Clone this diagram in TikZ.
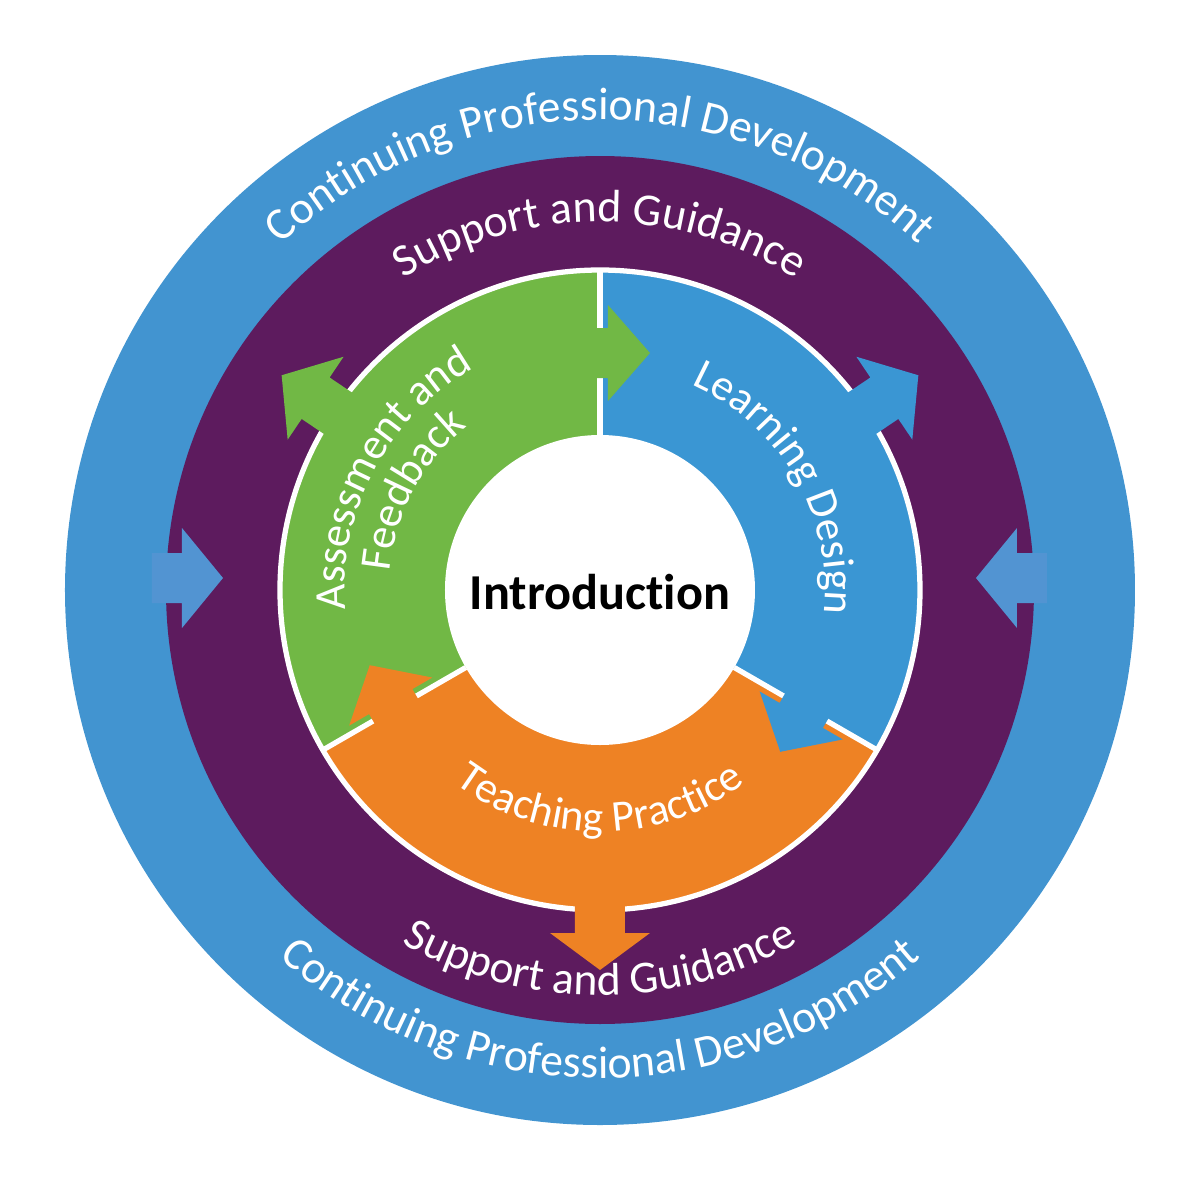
\documentclass[tikz,border=0pt]{standalone}
\usepackage{fontspec}
\setmainfont{Carlito}[Ligatures=NoCommon]
\usepackage{xcolor}
\usepackage{tikz}
\usetikzlibrary{decorations.text}

\definecolor{cpdblue}{HTML}{4294D0}
\definecolor{sgpurple}{HTML}{5D1B5E}
\definecolor{afgreen}{HTML}{71B845}
\definecolor{ldblue}{HTML}{3A96D3}
\definecolor{tporange}{HTML}{EE8224}
\definecolor{sideblue}{HTML}{5294D2}

\begin{document}
\begin{tikzpicture}[
  curvetext/.style={decorate, decoration={text along path, text align=center, text color=white, text={|\fontsize{13}{15}\selectfont|#1}}},
  segtext/.style={decorate, decoration={text along path, text align=center, text color=white, text={|\fontsize{12.5}{15}\selectfont|#1}}},
  border/.style={white, line width=1.5pt}
]
\useasboundingbox (-6,-6.1) rectangle (6,5.9);
\fill[cpdblue] (0,0) circle (5.35);
\fill[sgpurple] (0,0) circle (4.34);
\fill[sideblue] (-4.48,0.37) -- (-4.18,0.37) -- (-4.18,0.62) -- (-3.77,0.12) -- (-4.18,-0.38) -- (-4.18,-0.13) -- (-4.48,-0.13) -- cycle;
\fill[sideblue] (4.47,0.37) -- (4.17,0.37) -- (4.17,0.62) -- (3.76,0.12) -- (4.17,-0.38) -- (4.17,-0.13) -- (4.47,-0.13) -- cycle;
\fill[afgreen] (0,0) -- (90:3.2) arc (90:210:3.2) -- cycle;
\fill[ldblue] (0,0) -- (90:3.2) arc (90:-30:3.2) -- cycle;
\fill[tporange] (0,0) -- (210:3.2) arc (210:330:3.2) -- cycle;
\draw[border] (0,0) circle (3.2);
\draw[border] (90:1.55) -- (90:3.2);
\draw[border] (-30:1.55) -- (-30:3.2);
\draw[border] (210:1.55) -- (210:3.2);
\fill[white] (0,0) circle (1.55);
\fill[afgreen] (-0.40,2.12) -- (0.08,2.12) -- (0.08,1.89) -- (0.50,2.37) -- (0.08,2.85) -- (0.08,2.62) -- (-0.40,2.62) -- cycle;
\begin{scope}[rotate=-120]
\fill[ldblue] (-0.40,2.12) -- (0.08,2.12) -- (0.08,1.89) -- (0.50,2.37) -- (0.08,2.85) -- (0.08,2.62) -- (-0.40,2.62) -- cycle;
\end{scope}
\begin{scope}[rotate=120]
\fill[tporange] (-0.40,2.12) -- (0.08,2.12) -- (0.08,1.89) -- (0.50,2.37) -- (0.08,2.85) -- (0.08,2.62) -- (-0.40,2.62) -- cycle;
\end{scope}
\begin{scope}[rotate=146]
\fill[afgreen] (2.9,-0.25) -- (3.43,-0.25) -- (3.43,-0.5) -- (3.84,0) -- (3.43,0.5) -- (3.43,0.25) -- (2.9,0.25) -- cycle;
\end{scope}
\begin{scope}[rotate=34]
\fill[ldblue] (2.9,-0.25) -- (3.43,-0.25) -- (3.43,-0.5) -- (3.84,0) -- (3.43,0.5) -- (3.43,0.25) -- (2.9,0.25) -- cycle;
\end{scope}
\begin{scope}[rotate=270]
\fill[tporange] (2.9,-0.25) -- (3.43,-0.25) -- (3.43,-0.5) -- (3.80,0) -- (3.43,0.5) -- (3.43,0.25) -- (2.9,0.25) -- cycle;
\end{scope}
\node[font=\bfseries\fontsize{14.3}{16}\selectfont] (intro) at (0,-0.02) {Introduction};
\path[curvetext={Continuing Professional Development}] (160:4.70) arc[start angle=160, end angle=20, radius=4.70];
\path[curvetext={Continuing Professional Development}] (200:4.88) arc[start angle=200, end angle=340, radius=4.88];
\path[curvetext={Support and Guidance}] (150:3.68) arc[start angle=150, end angle=30, radius=3.68];
\path[curvetext={Support and Guidance}] (210:4.05) arc[start angle=210, end angle=330, radius=4.05];
\path[segtext={Assessment and}] (217:2.55) arc[start angle=217, end angle=87, radius=2.55];
\path[segtext={Feedback}] (217:2.11) arc[start angle=217, end angle=87, radius=2.11];
\path[segtext={Learning Design}] (95:2.25) arc[start angle=95, end angle=-35, radius=2.25];
\path[segtext={Teaching Practice}] (205:2.42) arc[start angle=205, end angle=335, radius=2.42];
\end{tikzpicture}
\end{document}
